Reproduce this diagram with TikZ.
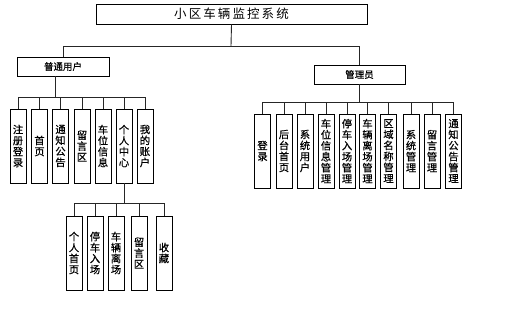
\documentclass[tikz,border=0pt]{standalone}
\usepackage{fontspec}
\newfontfamily\cjk{Noto Sans CJK SC}
\newfontfamily\cjkb{Noto Sans CJK SC}[FakeBold=0.6]
\usetikzlibrary{shadows}
\tikzset{
  box/.style={draw=black, line width=0.9pt, fill=white, inner sep=0pt,
    drop shadow={shadow xshift=0.8pt, shadow yshift=-0.8pt, fill=black!45, opacity=1}},
  hbox/.style={box, minimum height=19pt},
  vbox/.style={box, minimum width=16pt, minimum height=74pt, align=center,
    font=\cjkb\fontsize{10.3}{11}\selectfont},
  conn/.style={draw=black!85, line width=0.9pt}
}
\begin{document}
\begin{tikzpicture}[x=1pt,y=-1pt]
\useasboundingbox (0,0) rectangle (506,309);
% top
\node[box, minimum width=271pt, minimum height=20pt, font=\cjk\fontsize{12.5}{14}\selectfont] (top) at (231.5,14) {小\,区\,车\,辆\,监\,控\,系\,统};
\node[hbox, minimum width=92pt, font=\cjkb\fontsize{9.5}{11}\selectfont] (user) at (63,66.5) {普通用户};
\node[hbox, minimum width=91pt, font=\cjkb\fontsize{9.5}{11}\selectfont] (admin) at (359.5,74.5) {管理员};
\coordinate (j0) at (231,46);
\draw[conn] (top.south) -- (j0);
\draw[conn] (j0) -| (user.north);
\draw[conn] (j0) -| (admin.north);
% user children
\node[vbox] (u1) at (18,146) {注\\册\\登\\录};
\node[vbox] (u2) at (39.5,146) {首\\页};
\node[vbox] (u3) at (60.5,146) {通\\知\\公\\告};
\node[vbox] (u4) at (82,146) {留\\言\\区};
\node[vbox] (u5) at (103,146) {车\\位\\信\\息};
\node[vbox] (u6) at (124,146) {个\\人\\中\\心};
\node[vbox] (u7) at (145,146) {我\\的\\账\\户};
\coordinate (uj) at (55,97);
\draw[conn] (uj |- user.south) -- (uj);
\draw[conn] (u1.north |- uj) -- (u7.north |- uj);
\foreach \n in {u1,u2,u3,u4,u5,u6,u7} \draw[conn] (\n.north) -- (\n.north |- uj);
% personal centre children
\node[vbox] (p1) at (74,253) {个\\人\\首\\页};
\node[vbox] (p2) at (95,253) {停\\车\\入\\场};
\node[vbox] (p3) at (116,253) {车\\辆\\离\\场};
\node[vbox] (p4) at (139,253) {留\\言\\区};
\node[vbox] (p5) at (164,253) {收\\藏};
\coordinate (pj) at (124,203);
\draw[conn] (u6.south) -- (pj);
\draw[conn] (p1.north |- pj) -- (p5.north |- pj);
\foreach \n in {p1,p2,p3,p4,p5} \draw[conn] (\n.north) -- (\n.north |- pj);
% admin children
\node[vbox] (a1) at (262.5,151) {登\\录};
\node[vbox] (a2) at (284,151) {后\\台\\首\\页};
\node[vbox] (a3) at (305,151) {系\\统\\用\\户};
\node[vbox] (a4) at (326,151) {车\\位\\信\\息\\管\\理};
\node[vbox] (a5) at (347,151) {停\\车\\入\\场\\管\\理};
\node[vbox] (a6) at (367.5,151) {车\\辆\\离\\场\\管\\理};
\node[vbox] (a7) at (388.5,151) {区\\域\\名\\称\\管\\理};
\node[vbox] (a8) at (411,151) {系\\统\\管\\理};
\node[vbox] (a9) at (432,151) {留\\言\\管\\理};
\node[vbox] (a10) at (453.5,151) {通\\知\\公\\告\\管\\理};
\coordinate (aj) at (359.5,102);
\draw[conn] (admin.south) -- (aj);
\draw[conn] (a1.north |- aj) -- (a10.north |- aj);
\foreach \n in {a1,a2,a3,a4,a5,a6,a7,a8,a9,a10} \draw[conn] (\n.north) -- (\n.north |- aj);
\end{tikzpicture}
\end{document}
